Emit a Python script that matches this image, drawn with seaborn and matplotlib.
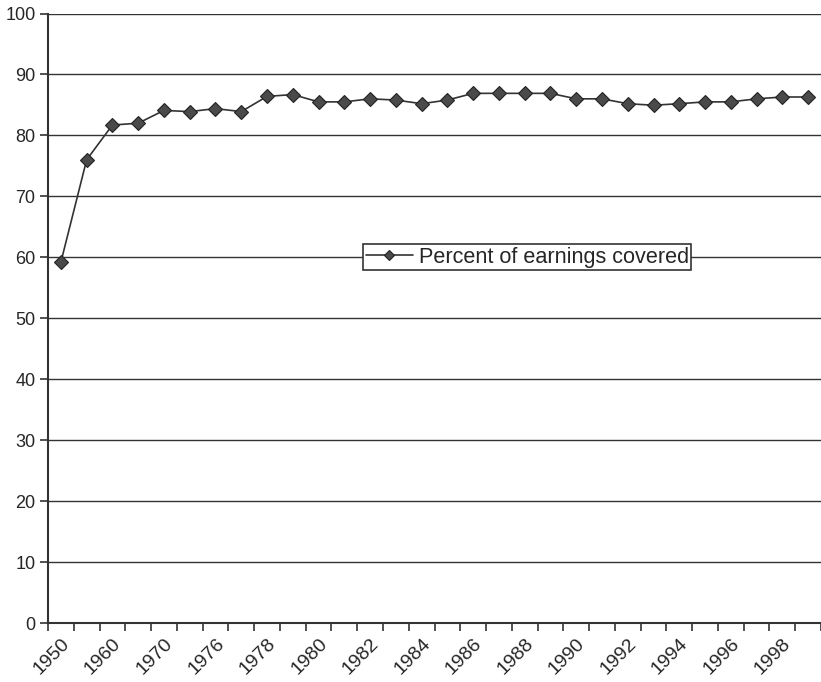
import numpy as np
import pandas as pd
import matplotlib
matplotlib.use("Agg")
import matplotlib.pyplot as plt
import seaborn as sns

years = ["1950", "1955", "1960", "1965", "1970", "1975"] + [str(y) for y in range(1976, 2000)]
percent_covered = [59.2, 76.0, 81.7, 82.0, 84.1, 83.9, 84.4, 83.9, 86.4, 86.7,
                   85.5, 85.5, 86.0, 85.8, 85.2, 85.8, 86.9, 86.9, 86.9, 86.9,
                   86.0, 86.0, 85.2, 84.95, 85.2, 85.5, 85.5, 86.0, 86.3, 86.3]
y_ticks = [0, 10, 20, 30, 40, 50, 60, 70, 80, 90, 100]
series_name = "Percent of earnings covered"

df = pd.DataFrame({"pos": np.arange(len(years)), "pct": percent_covered, "series": series_name})

sns.set_theme(style="white")
plt.rcParams["font.family"] = ["Liberation Sans", "DejaVu Sans"]

fig = plt.figure(figsize=(8.21, 6.82), dpi=100)
ax = fig.add_axes([48 / 821, 59 / 682, 773 / 821, (623 - 13.5) / 682])

ink = "#333333"
ax.set_ylim(0, 100)
ax.set_xlim(-0.5, len(years) - 0.5)
ax.set_yticks(y_ticks)
ax.yaxis.grid(True, color=ink, linewidth=1.0)
ax.set_axisbelow(True)

sns.lineplot(data=df, x="pos", y="pct", hue="series", palette=[ink], marker="D",
             markersize=7, markerfacecolor="#4a4a4a", markeredgecolor="#222222",
             markeredgewidth=0.8, linewidth=1.2, ax=ax)

# category boundaries carry the tick marks; labels sit on every other category
ax.set_xticks(np.arange(-0.5, len(years)), labels=[""] * (len(years) + 1))
ax.set_xticks(np.arange(0, len(years), 2), labels=years[::2], minor=True,
              fontsize=14, rotation=45, ha="right", rotation_mode="anchor")
ax.tick_params(axis="x", which="major", direction="out", length=6, width=1.2,
               color=ink, bottom=True)
ax.tick_params(axis="x", which="minor", length=0, pad=9)
ax.tick_params(axis="y", direction="out", length=6, width=1.2, color=ink,
               left=True, labelsize=13, pad=3)

ax.set_xlabel("")
ax.set_ylabel("")
for side in ["top", "right"]:
    ax.spines[side].set_visible(False)
for side in ["left", "bottom"]:
    ax.spines[side].set_color(ink)
    ax.spines[side].set_linewidth(1.5)

leg = ax.legend(loc="center", bbox_to_anchor=(0.62, 0.60), frameon=True,
                fancybox=False, fontsize=15.6, handlelength=2.2, handletextpad=0.25,
                borderpad=0.12, borderaxespad=0, framealpha=1, markerscale=0.8)
leg.get_frame().set_edgecolor(ink)
leg.get_frame().set_linewidth(1.2)
leg.set_title(None)

fig.savefig("out.png", dpi=100, facecolor="white")
